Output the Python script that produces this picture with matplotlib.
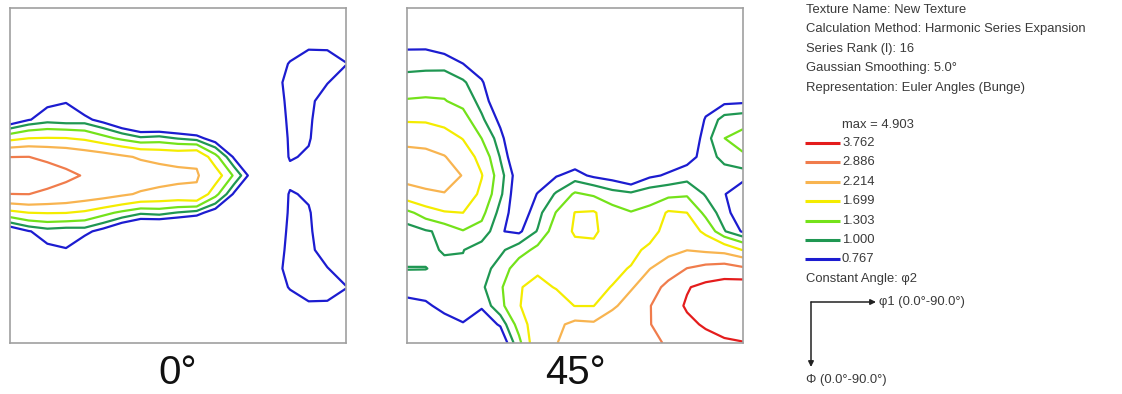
import numpy as np
import matplotlib.pyplot as plt

plt.rcParams["font.family"] = ["Liberation Sans", "DejaVu Sans"]

# grid of the ODF sections: phi1 across, Phi down, 5 degree steps
PHI1 = np.arange(0, 91, 5)
PHI = np.arange(0, 91, 5)

LEVELS = [0.767, 1.000, 1.303, 1.699, 2.214, 2.886, 3.762]
LEVEL_LABELS = ["0.767", "1.000", "1.303", "1.699", "2.214", "2.886", "3.762"]
LEVEL_COLORS = ["#1c1cd0", "#1f9752", "#74e21a", "#f4ec00", "#f8b450", "#f07c4c", "#e41c1c"]
SECTION_LABELS = ["0°", "45°"]

INFO_LINES = [
    "Texture Name: New Texture",
    "Calculation Method: Harmonic Series Expansion",
    "Series Rank (l): 16",
    "Gaussian Smoothing: 5.0°",
    "Representation: Euler Angles (Bunge)",
]
MAX_LABEL = "max = 4.903"
CONST_LABEL = "Constant Angle: φ2"
PHI1_LABEL = "φ1 (0.0°-90.0°)"
PHI_LABEL = "Φ (0.0°-90.0°)"

# f(g) values, one row per Phi (0..90), one column per phi1 (0..90)
ODF_0 = np.array([
    [0.30, 0.30, 0.30, 0.30, 0.30, 0.30, 0.30, 0.25, 0.25, 0.25, 0.25, 0.25, 0.30, 0.35, 0.30, 0.35, 0.40, 0.45, 0.45],
    [0.30, 0.30, 0.30, 0.30, 0.30, 0.30, 0.30, 0.25, 0.25, 0.25, 0.25, 0.25, 0.30, 0.35, 0.35, 0.45, 0.55, 0.55, 0.50],
    [0.30, 0.30, 0.30, 0.30, 0.30, 0.30, 0.30, 0.25, 0.25, 0.25, 0.25, 0.25, 0.30, 0.35, 0.40, 0.55, 0.70, 0.70, 0.60],
    [0.30, 0.35, 0.35, 0.35, 0.35, 0.35, 0.30, 0.25, 0.25, 0.25, 0.25, 0.25, 0.30, 0.35, 0.50, 0.80, 0.98, 0.95, 0.78],
    [0.35, 0.40, 0.45, 0.45, 0.40, 0.40, 0.30, 0.25, 0.25, 0.25, 0.25, 0.25, 0.30, 0.35, 0.50, 0.95, 0.95, 0.78, 0.60],
    [0.40, 0.50, 0.71, 0.76, 0.50, 0.45, 0.30, 0.20, 0.20, 0.20, 0.20, 0.20, 0.30, 0.35, 0.45, 0.90, 0.85, 0.60, 0.50],
    [0.50, 0.75, 0.88, 0.83, 0.85, 0.65, 0.38, 0.20, 0.15, 0.15, 0.15, 0.20, 0.30, 0.35, 0.45, 0.85, 0.82, 0.55, 0.45],
    [1.55, 1.70, 1.72, 1.71, 1.62, 1.42, 1.22, 1.05, 1.10, 0.98, 0.88, 0.59, 0.40, 0.40, 0.40, 0.82, 0.80, 0.50, 0.45],
    [2.88, 2.89, 2.78, 2.68, 2.55, 2.45, 2.30, 2.15, 2.07, 2.05, 2.15, 1.42, 0.72, 0.50, 0.40, 0.80, 0.72, 0.50, 0.45],
    [3.40, 3.30, 3.15, 3.00, 2.85, 2.75, 2.65, 2.55, 2.45, 2.35, 2.25, 1.95, 1.25, 0.60, 0.50, 0.65, 0.60, 0.50, 0.45],
    [2.88, 2.89, 2.78, 2.68, 2.55, 2.45, 2.30, 2.15, 2.07, 2.05, 2.15, 1.42, 0.72, 0.50, 0.40, 0.80, 0.72, 0.50, 0.45],
    [1.55, 1.70, 1.72, 1.71, 1.62, 1.42, 1.22, 1.05, 1.10, 0.98, 0.88, 0.59, 0.40, 0.40, 0.40, 0.82, 0.80, 0.50, 0.45],
    [0.50, 0.75, 0.88, 0.83, 0.85, 0.65, 0.38, 0.20, 0.15, 0.15, 0.15, 0.20, 0.30, 0.35, 0.45, 0.85, 0.82, 0.55, 0.45],
    [0.40, 0.50, 0.71, 0.76, 0.50, 0.45, 0.30, 0.20, 0.20, 0.20, 0.20, 0.20, 0.30, 0.35, 0.45, 0.90, 0.85, 0.60, 0.50],
    [0.35, 0.40, 0.45, 0.45, 0.40, 0.40, 0.30, 0.25, 0.25, 0.25, 0.25, 0.25, 0.30, 0.35, 0.50, 0.95, 0.95, 0.78, 0.60],
    [0.30, 0.35, 0.35, 0.35, 0.35, 0.35, 0.30, 0.25, 0.25, 0.25, 0.25, 0.25, 0.30, 0.35, 0.50, 0.80, 0.98, 0.95, 0.78],
    [0.30, 0.30, 0.30, 0.30, 0.30, 0.30, 0.30, 0.25, 0.25, 0.25, 0.25, 0.25, 0.30, 0.35, 0.40, 0.55, 0.70, 0.70, 0.60],
    [0.30, 0.30, 0.30, 0.30, 0.30, 0.30, 0.30, 0.25, 0.25, 0.25, 0.25, 0.25, 0.30, 0.35, 0.35, 0.45, 0.55, 0.55, 0.50],
    [0.30, 0.30, 0.30, 0.30, 0.30, 0.30, 0.30, 0.25, 0.25, 0.25, 0.25, 0.25, 0.30, 0.35, 0.30, 0.35, 0.40, 0.45, 0.45],
])

# same layout, phi2 = 45 section (written column by column, phi1 0..90)
ODF_45_COLS = [
    [0.30, 0.50, 0.72, 0.92, 1.10, 1.33, 1.65, 2.05, 2.41, 2.44, 1.95, 1.21, 0.86, 0.90, 1.01, 0.85, 0.70, 0.60, 0.55],
    [0.30, 0.50, 0.72, 0.93, 1.12, 1.35, 1.64, 2.03, 2.36, 2.35, 2.16, 1.46, 0.97, 0.95, 1.005, 0.90, 0.72, 0.60, 0.55],
    [0.25, 0.45, 0.65, 0.90, 1.18, 1.32, 1.55, 1.90, 2.24, 2.35, 2.20, 1.66, 1.06, 1.02, 0.95, 0.90, 0.85, 0.65, 0.55],
    [0.20, 0.35, 0.55, 0.77, 1.04, 1.20, 1.45, 1.68, 1.95, 2.20, 2.00, 1.70, 1.28, 1.01, 0.95, 0.92, 0.90, 0.75, 0.60],
    [0.15, 0.25, 0.40, 0.60, 0.80, 0.90, 1.05, 1.30, 1.55, 1.72, 1.60, 1.40, 1.18, 0.85, 0.90, 0.95, 0.80, 0.60, 0.50],
    [0.10, 0.15, 0.25, 0.35, 0.45, 0.55, 0.70, 0.85, 0.98, 1.10, 1.05, 0.90, 0.78, 0.95, 1.10, 1.25, 1.20, 0.80, 0.50],
    [0.05, 0.10, 0.15, 0.20, 0.25, 0.30, 0.35, 0.40, 0.45, 0.60, 0.55, 0.60, 0.72, 1.15, 1.50, 1.68, 1.68, 1.45, 1.20],
    [0.05, 0.08, 0.10, 0.15, 0.20, 0.25, 0.30, 0.35, 0.45, 0.60, 0.78, 0.90, 1.02, 1.40, 1.65, 1.78, 1.90, 2.00, 2.05],
    [0.05, 0.08, 0.10, 0.12, 0.15, 0.20, 0.30, 0.40, 0.60, 0.75, 1.03, 1.32, 1.50, 1.60, 1.62, 1.68, 1.85, 2.10, 2.20],
    [0.05, 0.08, 0.10, 0.12, 0.15, 0.20, 0.30, 0.45, 0.60, 0.85, 1.35, 1.71, 1.74, 1.60, 1.55, 1.60, 1.69, 2.35, 2.40],
    [0.05, 0.08, 0.10, 0.12, 0.15, 0.20, 0.30, 0.40, 0.55, 0.72, 1.25, 1.74, 1.75, 1.62, 1.60, 1.62, 1.69, 2.30, 2.60],
    [0.05, 0.07, 0.10, 0.12, 0.15, 0.20, 0.28, 0.38, 0.50, 0.65, 1.10, 1.45, 1.55, 1.60, 1.62, 1.71, 2.10, 2.60, 2.80],
    [0.05, 0.07, 0.10, 0.12, 0.15, 0.20, 0.28, 0.38, 0.50, 0.50, 1.05, 1.32, 1.45, 1.60, 1.72, 2.15, 2.50, 2.80, 2.85],
    [0.05, 0.07, 0.10, 0.12, 0.15, 0.22, 0.30, 0.40, 0.55, 0.72, 1.15, 1.40, 1.55, 1.78, 2.20, 2.55, 2.85, 2.85, 2.75],
    [0.05, 0.07, 0.10, 0.12, 0.15, 0.22, 0.30, 0.42, 0.60, 0.80, 1.20, 1.75, 1.85, 2.05, 2.50, 3.10, 3.40, 3.30, 2.95],
    [0.05, 0.07, 0.10, 0.12, 0.15, 0.25, 0.35, 0.50, 0.68, 0.88, 1.25, 1.70, 1.95, 2.20, 2.90, 3.70, 3.85, 3.60, 3.30],
    [0.05, 0.08, 0.12, 0.20, 0.35, 0.60, 0.80, 0.88, 0.85, 0.85, 0.97, 1.20, 1.60, 2.10, 3.10, 4.00, 4.30, 3.85, 3.50],
    [0.05, 0.08, 0.12, 0.25, 0.45, 0.70, 1.10, 1.30, 1.10, 0.85, 0.78, 0.85, 1.02, 2.00, 3.20, 4.20, 4.70, 4.20, 3.60],
    [0.05, 0.08, 0.15, 0.30, 0.50, 0.72, 1.15, 1.45, 1.25, 0.85, 0.60, 0.60, 0.73, 1.68, 3.00, 4.30, 4.90, 4.50, 3.70],
]
ODF_45 = np.array(ODF_45_COLS).T

TEXT_COLOR = "#3a3a3a"
FRAME_COLOR = "#a0a0a0"
INFO_SIZE = 9.4

fig = plt.figure(figsize=(11.22, 3.94), dpi=100)

# pixel-space overlay for the info block on the right
info = fig.add_axes([0, 0, 1, 1])
info.set_xlim(0, 1122)
info.set_ylim(394, 0)
info.axis("off")

sections = [(ODF_0, 10), (ODF_45, 407)]
for (odf, left_px), label in zip(sections, SECTION_LABELS):
    ax = fig.add_axes([left_px / 1122, 51 / 394, 336 / 1122, 335 / 394])
    ax.contour(PHI1, PHI, odf, levels=LEVELS, colors=LEVEL_COLORS, linewidths=1.6)
    ax.set_xlim(0, 90)
    ax.set_ylim(90, 0)
    ax.set_xticks([])
    ax.set_yticks([])
    for sp in ax.spines.values():
        sp.set_color(FRAME_COLOR)
        sp.set_linewidth(1.2)
    info.text(left_px + 168, 384, label, fontsize=29, ha="center", va="baseline",
              color="#111111")

for i, line in enumerate(INFO_LINES):
    info.text(806, 9.5 + i * 19.5, line, fontsize=INFO_SIZE, color=TEXT_COLOR, va="center")

info.text(842, 125, MAX_LABEL, fontsize=INFO_SIZE, color=TEXT_COLOR, va="center")

# legend, highest level first
n = len(LEVELS)
for row, k in enumerate(range(n - 1, -1, -1)):
    y = 143 + row * 19.4
    info.plot([805, 840], [y, y], color=LEVEL_COLORS[k], lw=2.2, solid_capstyle="butt")
    info.text(842, y, LEVEL_LABELS[k], fontsize=INFO_SIZE, color=TEXT_COLOR, va="center")

info.text(806, 279, CONST_LABEL, fontsize=INFO_SIZE, color=TEXT_COLOR, va="center")

arrow = dict(arrowstyle="-|>", color="#222222", lw=1.1, mutation_scale=8,
             shrinkA=0, shrinkB=0)
info.annotate("", xy=(876, 302), xytext=(811, 302), arrowprops=arrow)
info.annotate("", xy=(811, 367), xytext=(811, 302), arrowprops=arrow)
info.text(879, 302, PHI1_LABEL, fontsize=INFO_SIZE, color=TEXT_COLOR, va="center")
info.text(806, 380, PHI_LABEL, fontsize=INFO_SIZE, color=TEXT_COLOR, va="center")

fig.savefig("out.png", dpi=100)
